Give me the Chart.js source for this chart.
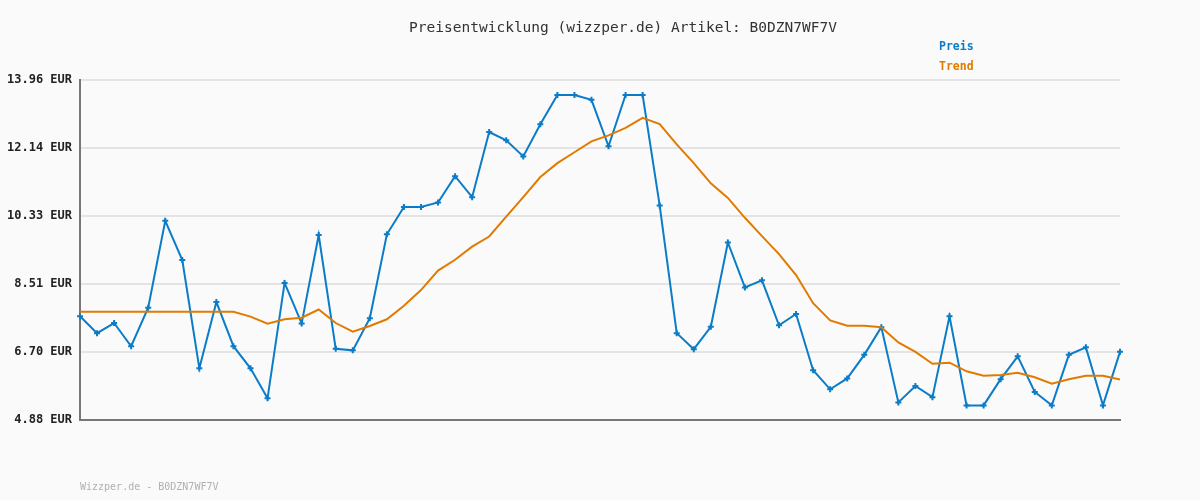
<!DOCTYPE html>
<html lang="de">
<head>
<meta charset="UTF-8">
<title>Preisentwicklung B0DZN7WF7V</title>
<script src="https://cdn.jsdelivr.net/npm/chart.js"></script>
<style>
html, body { margin:0; padding:0; background:#fafafa; }
#wrap { width:1200px; height:500px; }
</style>
</head>
<body>
<div id="wrap"><canvas id="chart" width="1200" height="500"></canvas></div>

<script>
// Preis (blaue Linie) – 62 Messpunkte
const preis = [
  7.65, 7.20, 7.47, 6.85, 7.88, 10.20, 9.15, 6.26, 8.03, 6.85,
  6.26, 5.46, 8.54, 7.46, 9.82, 6.78, 6.74, 7.60, 9.84, 10.57,
  10.57, 10.69, 11.39, 10.83, 12.57, 12.35, 11.92, 12.78, 13.56, 13.56,
  13.43, 12.19, 13.56, 13.56, 10.61, 7.20, 6.77, 7.37, 9.62, 8.42,
  8.61, 7.41, 7.71, 6.21, 5.70, 5.99, 6.62, 7.36, 5.35, 5.79,
  5.49, 7.65, 5.27, 5.27, 5.97, 6.58, 5.63, 5.27, 6.62, 6.82,
  5.27, 6.70
];
// Trend (orange Linie)
const trend = [
  7.77, 7.77, 7.77, 7.77, 7.77, 7.77, 7.77, 7.77, 7.77, 7.77,
  7.64, 7.45, 7.57, 7.61, 7.83, 7.47, 7.24, 7.39, 7.57, 7.93,
  8.35, 8.87, 9.16, 9.51, 9.78, 10.31, 10.83, 11.37, 11.74, 12.03,
  12.32, 12.48, 12.68, 12.95, 12.78, 12.24, 11.74, 11.20, 10.81, 10.28,
  9.79, 9.31, 8.75, 8.00, 7.54, 7.40, 7.40, 7.36, 6.95, 6.70,
  6.38, 6.41, 6.18, 6.06, 6.08, 6.14, 6.02, 5.85, 5.97, 6.06,
  6.06, 5.96
];
const yTicks = [4.88, 6.70, 8.51, 10.33, 12.14, 13.96];
const labels = preis.map((_, i) => i + 1);

const titel = 'Preisentwicklung (wizzper.de) Artikel: B0DZN7WF7V';
const fusszeile = 'Wizzper.de - B0DZN7WF7V';
const BLAU = '#0a7cc8';
const ORANGE = '#e07b00';

// Titel, Legende und Fußzeile selbst zeichnen
const textPlugin = {
  id: 'texte',
  afterDraw(chart) {
    const c = chart.ctx;
    c.save();
    c.textBaseline = 'middle';
    c.textAlign = 'center';
    c.fillStyle = '#333';
    c.font = '14.5px "DejaVu Sans Mono", monospace';
    c.fillText(titel, 623, 28);
    c.textAlign = 'left';
    c.font = 'bold 11.5px "DejaVu Sans Mono", monospace';
    c.fillStyle = BLAU;
    c.fillText('Preis', 939, 47);
    c.fillStyle = ORANGE;
    c.fillText('Trend', 939, 67);
    c.font = '10px "DejaVu Sans Mono", monospace';
    c.fillStyle = '#b0b0b0';
    c.fillText(fusszeile, 80, 487);
    c.restore();
  }
};

new Chart(document.getElementById('chart'), {
  type: 'line',
  data: {
    labels: labels,
    datasets: [
      { label:'Trend', data: trend, borderColor: ORANGE, borderWidth: 2,
        pointRadius: 0, tension: 0, fill: false },
      { label:'Preis', data: preis, borderColor: BLAU, backgroundColor: BLAU,
        borderWidth: 2, pointStyle: 'cross', pointRadius: 3, pointBorderWidth: 2,
        tension: 0, fill: false }
    ]
  },
  options: {
    responsive: false,
    animation: false,
    layout: { padding: { left: 0, right: 80, top: 80, bottom: 80 } },
    plugins: { legend: { display: false }, title: { display: false }, tooltip: { enabled: false } },
    scales: {
      x: {
        type: 'category',
        offset: false,
        grid: { display: false },
        ticks: { display: false },
        border: { color: '#777', width: 2 },
        afterFit(s) { s.height = 0; }
      },
      y: {
        min: 4.88, max: 13.96,
        afterBuildTicks(s) { s.ticks = yTicks.map(v => ({ value: v })); },
        afterFit(s) { s.width = 80; },
        grid: { color: '#e4e4e4', lineWidth: 2, drawTicks: false },
        border: { color: '#777', width: 2 },
        ticks: {
          padding: 8,
          color: '#222',
          font: { family: '"DejaVu Sans Mono", monospace', size: 12, weight: 'bold' },
          callback: v => v.toFixed(2) + ' EUR'
        }
      }
    }
  },
  plugins: [textPlugin]
});
</script>
</body>
</html>
